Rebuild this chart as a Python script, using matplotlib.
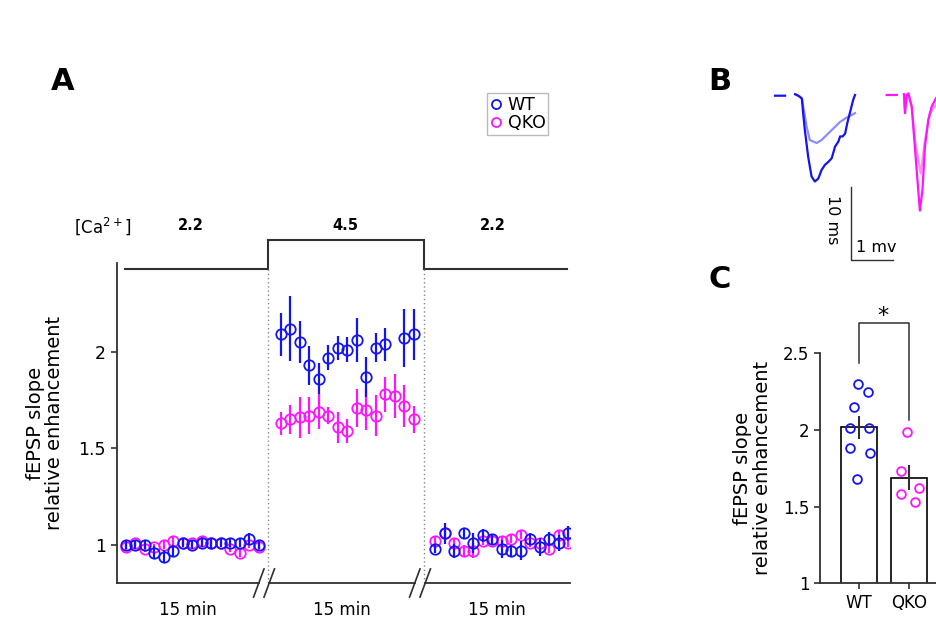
import numpy as np
import matplotlib
matplotlib.use("Agg")
import matplotlib.pyplot as plt

plt.rcParams['font.family'] = ['DejaVu Sans']

BLUE = '#1414f0'
MAG = '#ff14ff'
LBLUE = '#8c8cff'
LMAG = '#ff8cff'
INK = '#303030'

# ---- panel A data: fEPSP slope (relative) per minute, 3 blocks of 15 min ----
wt_base1 = [1.00, 1.00, 1.00, 0.96, 0.94, 0.97, 1.01, 1.00, 1.01, 1.01, 1.01, 1.01, 1.01, 1.03, 1.00]
wt_base1_err = [0.02, 0.02, 0.02, 0.035, 0.035, 0.03, 0.02, 0.02, 0.02, 0.025, 0.02, 0.02, 0.02, 0.03, 0.02]
qko_base1 = [0.99, 1.01, 0.98, 0.99, 1.00, 1.02, 1.01, 1.01, 1.02, 1.01, 1.01, 0.98, 0.96, 1.00, 0.99]
qko_base1_err = [0.015, 0.015, 0.015, 0.015, 0.02, 0.02, 0.015, 0.015, 0.02, 0.02, 0.015, 0.015, 0.02, 0.015, 0.015]

wt_high = [2.09, 2.12, 2.05, 1.93, 1.86, 1.97, 2.02, 2.01, 2.06, 1.87, 2.02, 2.04, np.nan, 2.07, 2.09]
wt_high_err = [0.11, 0.17, 0.11, 0.10, 0.08, 0.065, 0.06, 0.065, 0.115, 0.105, 0.075, 0.085, np.nan, 0.15, 0.13]
qko_high = [1.63, 1.65, 1.66, 1.67, 1.69, 1.67, 1.61, 1.59, 1.71, 1.70, 1.67, 1.78, 1.77, 1.72, 1.65]
qko_high_err = [0.06, 0.075, 0.105, 0.095, 0.09, 0.045, 0.08, 0.06, 0.10, 0.105, 0.105, 0.09, 0.115, 0.11, 0.07]

wt_base2 = [0.98, 1.06, 0.97, 1.06, 1.01, 1.05, 1.03, 0.98, 0.97, 0.97, 1.03, 0.99, 1.03, 1.01, 1.06]
wt_base2_err = [0.02, 0.055, 0.035, 0.03, 0.05, 0.035, 0.025, 0.045, 0.03, 0.05, 0.03, 0.045, 0.035, 0.04, 0.04]
qko_base2 = [1.02, 1.06, 1.01, 0.97, 0.97, 1.02, 1.02, 1.02, 1.03, 1.05, 1.01, 1.01, 0.98, 1.05, 1.01]
qko_base2_err = [0.02, 0.03, 0.02, 0.03, 0.04, 0.02, 0.02, 0.02, 0.02, 0.02, 0.02, 0.02, 0.02, 0.02, 0.02]

ca_levels = ['2.2', '4.5', '2.2']

# ---- panel B data: example traces (ms, mV) ----
wt_t = [0.0, 2.4, None, 4.8, 5.2, 5.8, 6.4, 6.7, 7.1, 7.9, 8.7, 9.5, 10.3, 11.1, 11.9, 12.7, 13.5,
        14.3, 15.1, 15.5, 16.1, 16.7, 17.2, 17.9, 18.6, 19.05]
wt_v = [-0.01, -0.01, None, 0.01, 0.0, -0.02, -0.05, -0.25, -0.48, -0.85, -1.12, -1.19, -1.15, -1.03,
        -0.96, -0.92, -0.87, -0.71, -0.64, -0.57, -0.57, -0.53, -0.39, -0.23, -0.07, 0.0]
wt_hi_t = [4.8, 5.2, 5.8, 6.4, 7.55, 8.3, 9.9, 11.1, 12.3, 13.9, 15.5, 17.1, 19.05]
wt_hi_v = [0.01, 0.0, -0.02, -0.05, -0.44, -0.62, -0.66, -0.62, -0.55, -0.46, -0.37, -0.31, -0.25]
qko_t = [26.6, 29.0, None, 30.7, 30.95, 31.35, 31.75, 32.55, 33.3, 34.1, 34.5, 35.1, 35.7, 36.5, 37.3,
         38.1, 38.6]
qko_v = [0.0, 0.0, None, 0.01, -0.25, 0.0, 0.02, -0.16, -0.71, -1.31, -1.59, -1.31, -0.71, -0.34,
         -0.16, -0.07, -0.02]
qko_hi_t = [30.7, 30.95, 31.35, 31.75, 32.55, 33.3, 34.7, 35.7, 36.9, 38.6]
qko_hi_v = [0.01, -0.25, 0.0, 0.02, -0.16, -0.62, -1.08, -0.62, -0.25, -0.11]

# ---- panel C data: per-slice enhancement ----
groups = ['WT', 'QKO']
wt_slices = [2.30, 2.25, 2.15, 2.01, 2.01, 1.88, 1.85, 1.68]
qko_slices = [1.99, 1.73, 1.58, 1.62, 1.53]
wt_sem = 0.073
qko_sem = 0.081

W, H = 937, 621
fig = plt.figure(figsize=(W / 100, H / 100), dpi=100)


def fx(px):
    return px / W


def fy(py):
    return 1 - py / H


# ================= panel A =================
axA = fig.add_axes([fx(117), fy(583), fx(570) - fx(117), fy(263) - fy(583)])
ymin, ymax = 0.803, 2.46
axA.set_xlim(-0.916, 46.77)
axA.set_ylim(ymin, ymax)

starts = [0, 16.3, 32.6]
blocks = [(wt_base1, wt_base1_err, qko_base1, qko_base1_err),
          (wt_high, wt_high_err, qko_high, qko_high_err),
          (wt_base2, wt_base2_err, qko_base2, qko_base2_err)]
for s, (wt, wte, qk, qke) in zip(starts, blocks):
    x = s + np.arange(len(wt))
    axA.errorbar(x, qk, yerr=qke, fmt='o', ms=7.5, mfc='none', mec=MAG, mew=1.3,
                 ecolor=MAG, elinewidth=1.6, capsize=0, zorder=3)
    axA.errorbar(x, wt, yerr=wte, fmt='o', ms=7.5, mfc='none', mec=BLUE, mew=1.3,
                 ecolor=BLUE, elinewidth=1.6, capsize=0, zorder=4)

# Ca2+ protocol trace above the axes
step1, step2 = 14.98, 31.4
lo, hi = 2.43, 2.58
axA.plot([-0.07, step1, step1, step2, step2, 46.46], [lo, lo, hi, hi, lo, lo],
         color=INK, lw=1.5, clip_on=False, solid_joinstyle='miter')
for xs in (step1, step2):
    axA.plot([xs, xs], [ymin, lo], color='#888888', lw=1.0, ls=(0, (1, 2)), clip_on=False)
for xt, lab in zip([6.9, 23.1, 38.6], ca_levels):
    axA.text(xt, 2.653, lab, ha='center', va='center', fontsize=10.5, fontweight='bold', clip_on=False)
axA.text(-2.4, 2.653, '[Ca$^{2+}$]', ha='center', va='center', fontsize=12, clip_on=False)

# broken x axis
for sp in ['top', 'right', 'bottom']:
    axA.spines[sp].set_visible(False)
axA.spines['left'].set_color(INK)
axA.spines['left'].set_linewidth(1.3)
brk = [14.56, 30.98]
segs = [(-0.916, brk[0] - 0.5), (brk[0] + 0.5, brk[1] - 0.5), (brk[1] + 0.5, 46.77)]
for a, b in segs:
    axA.plot([a, b], [ymin, ymin], color=INK, lw=1.3, clip_on=False)
for c in brk:
    for off in (-0.55, 0.55):
        axA.plot([c + off - 0.55, c + off + 0.55], [ymin - 0.073, ymin + 0.073], color=INK, lw=1.2,
                 clip_on=False)
for xt in [6.56, 22.8, 39.1]:
    axA.text(xt, 0.663, '15 min', ha='center', va='center', fontsize=12, clip_on=False)

axA.set_xticks([])
axA.set_yticks([1, 1.5, 2])
axA.set_yticklabels(['1', '1.5', '2'])
axA.tick_params(axis='y', labelsize=12.5, length=4, width=1.2, color=INK, pad=4)
axA.set_ylabel('fEPSP slope\nrelative enhancement', fontsize=14, labelpad=10, linespacing=1.05)

fig.legend(handles=[
    plt.Line2D([], [], marker='o', ls='none', mfc='none', mec=BLUE, ms=6.5, mew=1.3, label='WT'),
    plt.Line2D([], [], marker='o', ls='none', mfc='none', mec=MAG, ms=6.5, mew=1.3, label='QKO')],
    loc='upper left', bbox_to_anchor=(fx(487), fy(93)), fontsize=12.5, frameon=True, fancybox=False,
    edgecolor='#aaaaaa', borderpad=0.15, labelspacing=0.05, handlelength=0.7, handletextpad=0.35,
    borderaxespad=0)

# ================= panel B =================
axB = fig.add_axes([fx(770), fy(265), fx(937) - fx(770), fy(80) - fy(265)])
axB.set_xlim(-1.19, 38.57)
axB.set_ylim(-2.338, 0.206)
axB.axis('off')


def trace(t, v):
    return ([np.nan if a is None else a for a in t], [np.nan if a is None else a for a in v])


axB.plot(*trace(wt_hi_t, wt_hi_v), color=LBLUE, lw=1.6)
axB.plot(*trace(wt_t, wt_v), color=BLUE, lw=1.6)
axB.plot(*trace(qko_hi_t, qko_hi_v), color=LMAG, lw=1.6, clip_on=False)
axB.plot(*trace(qko_t, qko_v), color=MAG, lw=1.6, clip_on=False)
axB.plot([18.02, 18.02, 28.02], [-1.27, -2.27, -2.27], color=INK, lw=1.0)
axB.text(13.7, -1.72, '10 ms', rotation=270, ha='center', va='center', fontsize=11.5)
axB.text(24.1, -2.10, '1 mv', ha='center', va='center', fontsize=11.5)

# ================= panel C =================
axC = fig.add_axes([fx(820), fy(583.3), fx(937) - fx(820), fy(353.3) - fy(583.3)])
axC.set_xlim(-0.765, 1.55)
axC.set_ylim(1, 2.5)
means = [np.mean(wt_slices), np.mean(qko_slices)]
axC.bar([0, 1], means, width=0.71, bottom=0, color='white', edgecolor='black', lw=1.2, zorder=1)
axC.errorbar([0, 1], means, yerr=[wt_sem, qko_sem], fmt='none', ecolor=INK, elinewidth=1.5, capsize=0,
             zorder=3)
wt_jit = [-0.02, 0.18, -0.085, -0.17, 0.2, -0.17, 0.22, -0.04]
qko_jit = [-0.05, -0.16, -0.16, 0.2, 0.11]
axC.plot(np.array(wt_jit), wt_slices, 'o', ms=6.3, mfc='none', mec=BLUE, mew=1.3, zorder=4)
axC.plot(1 + np.array(qko_jit), qko_slices, 'o', ms=6.3, mfc='none', mec=MAG, mew=1.3, zorder=4)
axC.plot([0, 0, 0.99, 0.99], [2.435, 2.696, 2.696, 2.065], color=INK, lw=1.1, clip_on=False)
axC.text(0.486, 2.745, '*', ha='center', va='center', fontsize=16, clip_on=False)

for sp in ['top', 'right']:
    axC.spines[sp].set_visible(False)
for sp in ['left', 'bottom']:
    axC.spines[sp].set_color(INK)
    axC.spines[sp].set_linewidth(1.3)
axC.set_xticks([0, 1])
axC.set_xticklabels(groups)
axC.set_yticks([1, 1.5, 2, 2.5])
axC.set_yticklabels(['1', '1.5', '2', '2.5'])
axC.tick_params(labelsize=12, length=4, width=1.2, color=INK)
axC.set_ylabel('fEPSP slope\nrelative enhancement', fontsize=14, labelpad=8, linespacing=1.05)

fig.text(fx(63), fy(82), 'A', fontsize=22, fontweight='bold', ha='center', va='center')
fig.text(fx(720), fy(82), 'B', fontsize=22, fontweight='bold', ha='center', va='center')
fig.text(fx(720), fy(280), 'C', fontsize=22, fontweight='bold', ha='center', va='center')

fig.savefig('out.png', dpi=100)
